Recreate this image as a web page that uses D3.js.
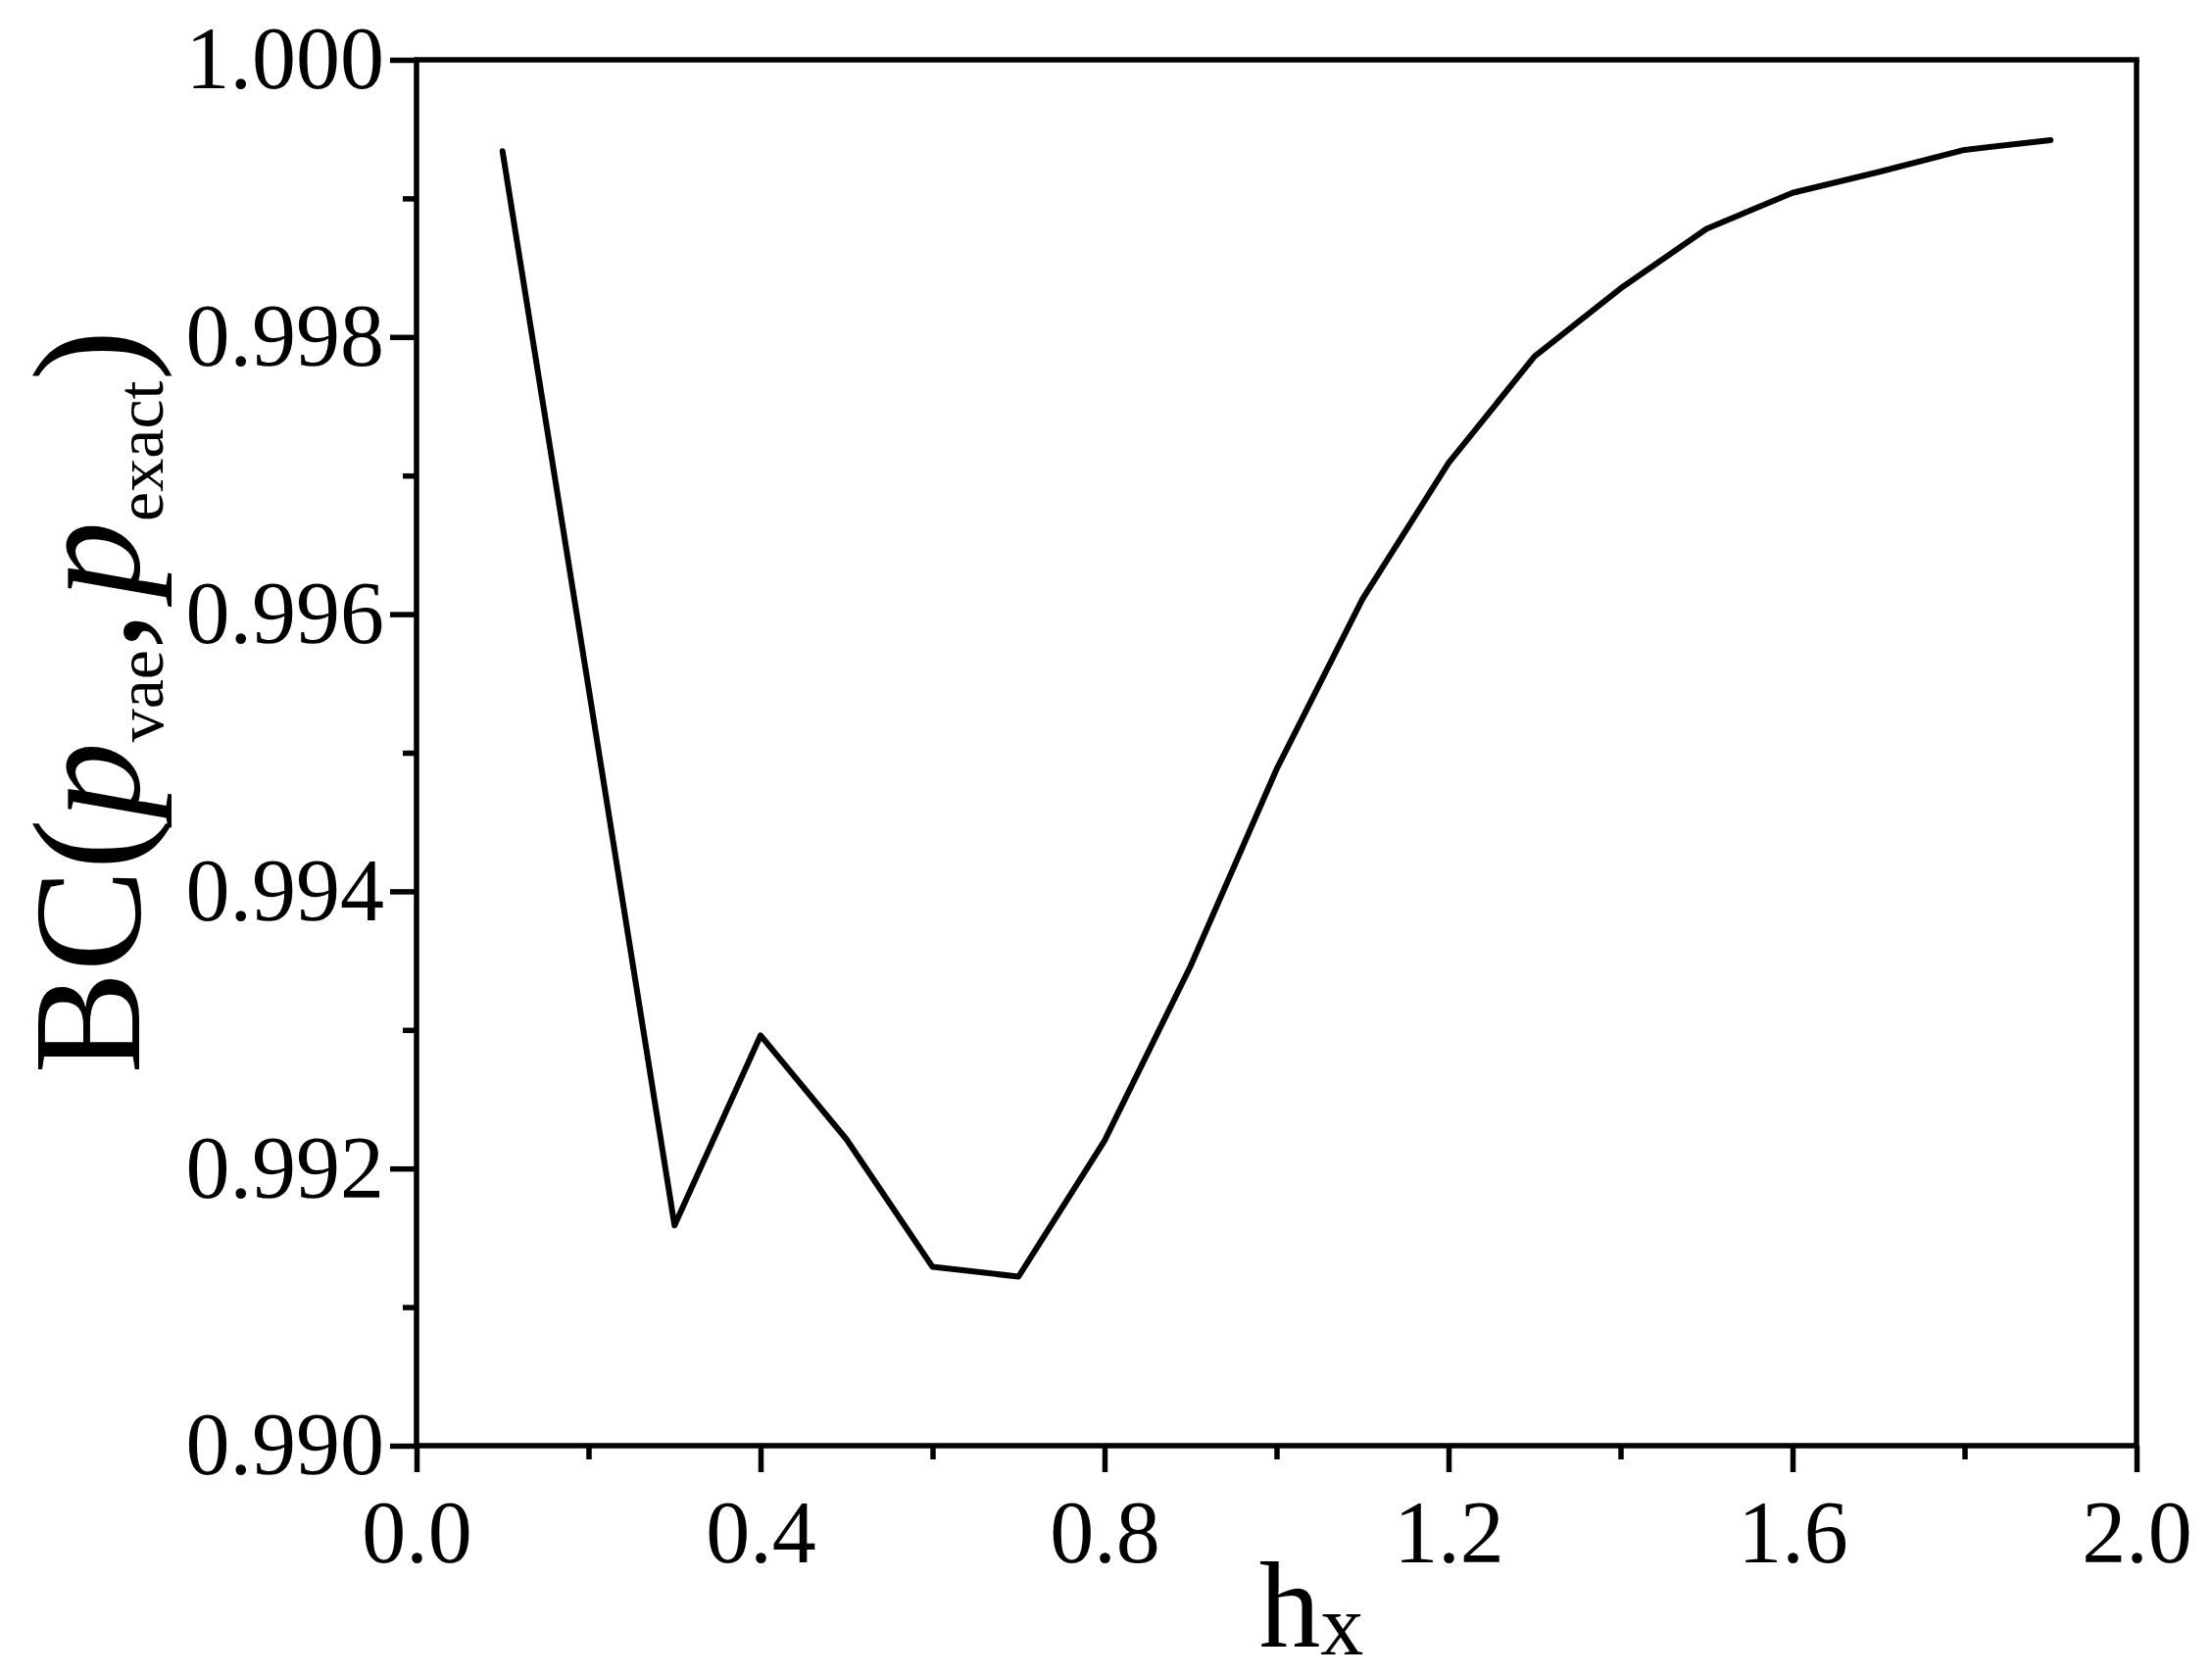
<!DOCTYPE html>
<html lang="en">
<head>
    <meta charset="UTF-8">
    <script src="https://d3js.org/d3.v7.min.js" charset="utf-8"></script>
    <title>BC vs hx</title>
    <style>
        body { margin: 0; background: white; }
        svg { display: block; }
        text { font-family: "Liberation Serif", "Times New Roman", serif; fill: black; }
    </style>
</head>
<body>
<div class="chart"></div>

<script>
    const width = 2257;
    const height = 1710;

    // data
    const hx = [0.1, 0.2, 0.3, 0.4, 0.5, 0.6, 0.7, 0.8, 0.9, 1.0,
                1.1, 1.2, 1.3, 1.4, 1.5, 1.6, 1.7, 1.8, 1.9];
    const bc = [0.99934, 0.99547, 0.99159, 0.99296, 0.99221, 0.99129, 0.99122, 0.99220, 0.99346, 0.99488,
                0.99611, 0.99709, 0.99786, 0.99835, 0.99878, 0.99904, 0.99919, 0.99935, 0.99942];

    // tick values
    const xMajor = [0.0, 0.4, 0.8, 1.2, 1.6, 2.0];
    const xMinor = [0.2, 0.6, 1.0, 1.4, 1.8];
    const yMajor = [0.990, 0.992, 0.994, 0.996, 0.998, 1.000];
    const yMinor = [0.991, 0.993, 0.995, 0.997, 0.999];

    const margin = {top: 61, right: 77, bottom: 235, left: 425};

    const svg = d3.select(".chart").append("svg")
        .attr("width", width)
        .attr("height", height);

    const x = d3.scaleLinear().domain([0, 2]).range([margin.left, width - margin.right]);
    const y = d3.scaleLinear().domain([0.990, 1.000]).range([height - margin.bottom, margin.top]);

    const axisStroke = 5.5;

    // x axis: major + minor ticks
    const gx = svg.append("g")
        .attr("transform", `translate(0,${height - margin.bottom})`)
        .call(d3.axisBottom(x).tickValues(xMajor).tickFormat(d3.format(".1f"))
            .tickSize(27).tickPadding(28));
    svg.append("g")
        .attr("transform", `translate(0,${height - margin.bottom})`)
        .call(d3.axisBottom(x).tickValues(xMinor).tickFormat("").tickSize(14))
        .select(".domain").remove();

    // y axis: major + minor ticks
    const gy = svg.append("g")
        .attr("transform", `translate(${margin.left},0)`)
        .call(d3.axisLeft(y).tickValues(yMajor).tickFormat(d3.format(".3f"))
            .tickSize(27).tickPadding(6));
    svg.append("g")
        .attr("transform", `translate(${margin.left},0)`)
        .call(d3.axisLeft(y).tickValues(yMinor).tickFormat("").tickSize(14))
        .select(".domain").remove();

    svg.selectAll(".domain").attr("stroke-width", axisStroke).attr("stroke", "black");
    svg.selectAll(".tick line").attr("stroke-width", axisStroke).attr("stroke", "black");
    svg.selectAll(".tick text").attr("font-size", 90)
        .style("font-family", "'Liberation Serif', 'Times New Roman', serif");

    // outer-tick stubs of the domain path are dropped; draw frame top and right
    gx.select(".domain").attr("d", `M${x(0)},0H${x(2)}`);
    gy.select(".domain").attr("d", `M0,${y(0.990)}V${y(1.000)}`);
    svg.append("line")
        .attr("x1", x(0) - axisStroke / 2).attr("x2", x(2) + axisStroke / 2)
        .attr("y1", y(1.000)).attr("y2", y(1.000))
        .attr("stroke", "black").attr("stroke-width", axisStroke);
    svg.append("line")
        .attr("x1", x(2)).attr("x2", x(2))
        .attr("y1", y(1.000)).attr("y2", y(0.990))
        .attr("stroke", "black").attr("stroke-width", axisStroke);

    // data line
    const line = d3.line()
        .x((d, i) => x(hx[i]))
        .y(d => y(d));

    svg.append("path")
        .datum(bc)
        .attr("fill", "none")
        .attr("stroke", "black")
        .attr("stroke-width", 6)
        .attr("stroke-linejoin", "round")
        .attr("stroke-linecap", "round")
        .attr("d", line);

    // x label: h with subscript x
    const xl = svg.append("text")
        .attr("x", 1338)
        .attr("y", 1680)
        .attr("text-anchor", "middle")
        .attr("font-size", 125);
    xl.append("tspan").text("h");
    xl.append("tspan").attr("font-size", 88).attr("dy", 8).text("x");

    // y label: BC(p_vae, p_exact)
    const yl = svg.append("text")
        .attr("transform", `translate(142,716) rotate(-90)`)
        .attr("text-anchor", "middle")
        .attr("font-size", 156);
    yl.append("tspan").text("BC(");
    yl.append("tspan").attr("font-style", "italic").text("p");
    yl.append("tspan").attr("font-size", 68).attr("dy", 24).text("vae");
    yl.append("tspan").attr("dy", -24).text(",");
    yl.append("tspan").attr("font-style", "italic").attr("dx", 14).text("p");
    yl.append("tspan").attr("font-size", 68).attr("dy", 24).text("exact");
    yl.append("tspan").attr("dy", -24).text(")");
</script>
</body>
</html>
